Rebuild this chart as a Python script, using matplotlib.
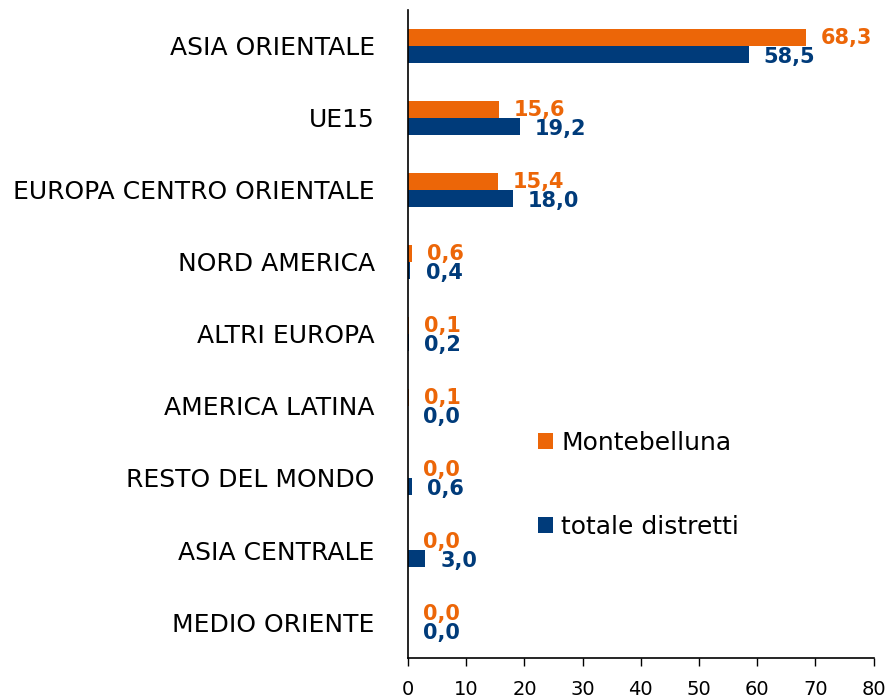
import numpy as np
import matplotlib
matplotlib.use("Agg")
import matplotlib.pyplot as plt

categorie = [
    "ASIA ORIENTALE",
    "UE15",
    "EUROPA CENTRO ORIENTALE",
    "NORD AMERICA",
    "ALTRI EUROPA",
    "AMERICA LATINA",
    "RESTO DEL MONDO",
    "ASIA CENTRALE",
    "MEDIO ORIENTE",
]
montebelluna = [68.3, 15.6, 15.4, 0.6, 0.1, 0.1, 0.0, 0.0, 0.0]
totale_distretti = [58.5, 19.2, 18.0, 0.4, 0.2, 0.0, 0.6, 3.0, 0.0]
x_ticks = [0, 10, 20, 30, 40, 50, 60, 70, 80]

ARANCIO = "#EC6608"
BLU = "#003B7A"

plt.rcParams["font.family"] = ["DejaVu Sans"]

fig = plt.figure(figsize=(8.87, 6.98), dpi=100)
ax = fig.add_axes([0.46, 0.0573, 0.525, 0.9284])

y = np.arange(len(categorie))
h = 0.235

barre_m = ax.barh(y - h / 2, montebelluna, height=h, color=ARANCIO, label="Montebelluna")
barre_t = ax.barh(y + h / 2, totale_distretti, height=h, color=BLU, label="totale distretti")

# etichette dei valori, con la virgola come separatore decimale
for barre, valori, colore, dy in [(barre_m, montebelluna, ARANCIO, 0), (barre_t, totale_distretti, BLU, -2)]:
    for barra, v in zip(barre, valori):
        ax.annotate(
            f"{v:.1f}".replace(".", ","),
            xy=(v, barra.get_y() + barra.get_height() / 2),
            xytext=(11, dy),
            textcoords="offset points",
            ha="left",
            va="center",
            color=colore,
            fontsize=15,
            fontweight="bold",
        )

ax.set_ylim(len(categorie) - 0.5, -0.5)
ax.set_xlim(0, 80)
ax.set_yticks(y)
ax.set_yticklabels(categorie, fontsize=18)
ax.set_xticks(x_ticks)
ax.set_xticklabels([str(t) for t in x_ticks], fontsize=14)
ax.tick_params(axis="y", length=0, pad=24)
ax.tick_params(axis="x", length=6, width=1, direction="out", pad=10)

for lato in ["top", "right"]:
    ax.spines[lato].set_visible(False)
ax.spines["left"].set_linewidth(1.2)
ax.spines["bottom"].set_linewidth(1.2)

ax.legend(
    loc="upper left",
    bbox_to_anchor=(0.23, 0.385),
    frameon=False,
    fontsize=18,
    handlelength=0.6,
    handleheight=0.6,
    handletextpad=0.35,
    labelspacing=2.4,
)

fig.savefig("out.png", dpi=100)
